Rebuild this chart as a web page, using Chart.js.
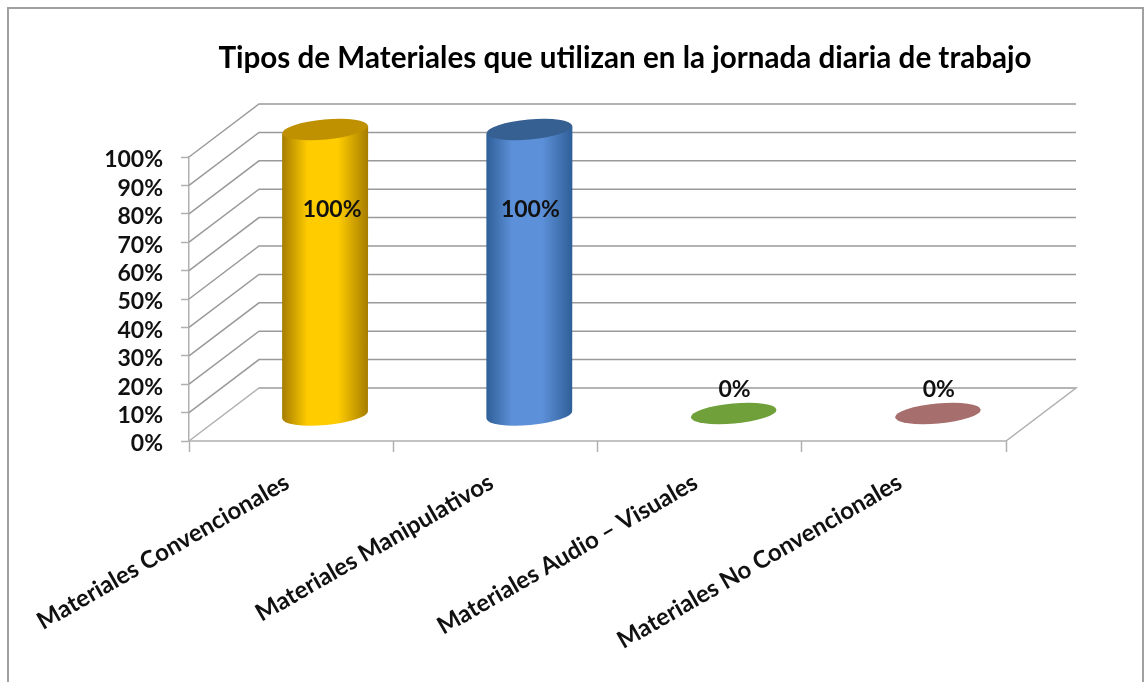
<!DOCTYPE html>
<html><head><meta charset="utf-8">
<style>html,body{margin:0;padding:0;background:#fff}#w{position:relative;width:1145px;height:682px}</style>
<script src="https://cdn.jsdelivr.net/npm/chart.js@4/dist/chart.umd.min.js"></script>
</head><body><div id="w"><canvas id="c" width="1145" height="682"></canvas></div>
<script>
const categories=["Materiales Convencionales","Materiales Manipulativos","Materiales Audio – Visuales","Materiales No Convencionales"];
const values=[100,100,0,0];
const barColors=[["#a67c00","#ffcc00"],["#2f5f98","#5c90d8"],["#6fa03a","#6fa03a"],["#a66e6c","#a66e6c"]];
const topColors=["#bf9000","#376092","#6fa03a","#a66e6c"];
const yTicks=[0,10,20,30,40,50,60,70,80,90,100];
const titleText="Tipos de Materiales que utilizan en la jornada diaria de trabajo";
const font='Lato';
const DX=70,DY=-53,GRID='#9a9a9a',FLOOR='#b0b0b0',TILT=-0.09;
const labelDX=[41,35,35,35];
const plugin3d={id:'p3d',
 afterLayout(ch){ch.titleBlock.left+=122;ch.titleBlock.right+=122;},
 beforeDatasetsDraw(ch){
  const c=ch.ctx,a=ch.chartArea,y=ch.scales.y;
  c.save();c.lineWidth=1.5;
  yTicks.forEach(t=>{const p=y.getPixelForValue(t);
   c.strokeStyle=t===0?FLOOR:GRID;
   c.beginPath();c.moveTo(a.left,p);c.lineTo(a.left+DX,p+DY);
   c.lineTo(a.right+DX,p+DY);c.stroke();});
  c.strokeStyle=FLOOR;
  const b=a.bottom;
  c.beginPath();c.moveTo(a.left+DX,b+DY);c.lineTo(a.right+DX,b+DY);c.lineTo(a.right,b);c.lineTo(a.left,b);c.stroke();
  c.restore();
 },
 beforeDatasetDraw(ch,args){
  const c=ch.ctx,m=args.meta;
  m.data.forEach((el,i)=>{
   const p=el.getProps(['x','y','base','width'],true);
   const cx=p.x+34,w=86,ry=10,top=p.y+DY/2-1,bot=p.base+DY/2+1,col=barColors[i],sl=Math.sin(-TILT)*w/2;
   c.save();
   if(values[i]>0){
    const g=c.createLinearGradient(cx-w/2,0,cx+w/2,0);
    g.addColorStop(0,col[0]);g.addColorStop(.3,col[1]);g.addColorStop(.65,col[1]);g.addColorStop(1,col[0]);
    c.fillStyle=g;c.beginPath();
    c.moveTo(cx-w/2,top+sl);c.lineTo(cx-w/2,bot+sl);
    c.ellipse(cx,bot,w/2,ry,TILT,Math.PI,0,true);
    c.lineTo(cx+w/2,top-sl);c.closePath();c.fill();
   }
   c.fillStyle=topColors[i];c.beginPath();
   c.ellipse(cx,top,w/2,ry,TILT,0,Math.PI*2);c.fill();
   c.restore();
  });
  return false;
 },
 afterDatasetsDraw(ch){
  const c=ch.ctx,m=ch.getDatasetMeta(0),y=ch.scales.y;
  c.save();c.font='bold 23px '+font;c.fillStyle='#111';c.textAlign='center';c.textBaseline='middle';
  m.data.forEach((el,i)=>{
   const cx=el.x+labelDX[i];
   if(values[i]>0)c.fillText(values[i]+'%',cx,y.getPixelForValue(values[i])+53);
   else c.fillText(values[i]+'%',cx,y.getPixelForValue(0)-51);
  });
  c.restore();
  c.save();c.strokeStyle='#a0a0a0';c.lineWidth=2;c.beginPath();c.moveTo(8,682);c.lineTo(8,8);c.lineTo(1143,8);c.lineTo(1143,682);c.stroke();c.restore();
 }
};
new Chart(document.getElementById('c'),{type:'bar',
 data:{labels:categories,datasets:[{data:values,backgroundColor:topColors,barPercentage:.5}]},
 options:{responsive:false,animation:false,
  layout:{padding:{left:0,right:139,top:0,bottom:0}},
  plugins:{legend:{display:false},tooltip:{enabled:false},
   title:{display:true,text:titleText,color:'#000',font:{family:font,size:29.6,weight:'bold'},padding:{top:41,bottom:80.5},align:'center'}},
  scales:{
   x:{afterFit(s){s.height=241;},grid:{display:true,drawOnChartArea:false,drawTicks:true,tickLength:11,tickWidth:1.5,color:FLOOR,offset:true},border:{display:false},
      ticks:{color:'#111',font:{family:font,size:24,weight:'bold'},maxRotation:30,minRotation:30,padding:16,labelOffset:-4,autoSkip:false}},
   y:{min:0,max:100,afterBuildTicks(s){s.ticks=yTicks.map(v=>({value:v}));},afterFit(s){s.width=189;},
      grid:{display:true,drawOnChartArea:false,tickLength:8,tickWidth:1.5,color:FLOOR},border:{display:true,color:FLOOR,width:1.5},
      ticks:{color:'#111',font:{family:font,size:23,weight:'bold'},callback:v=>v+'%',padding:18,labelOffset:3,autoSkip:false}}
  }},
 plugins:[plugin3d]});
</script></body></html>
